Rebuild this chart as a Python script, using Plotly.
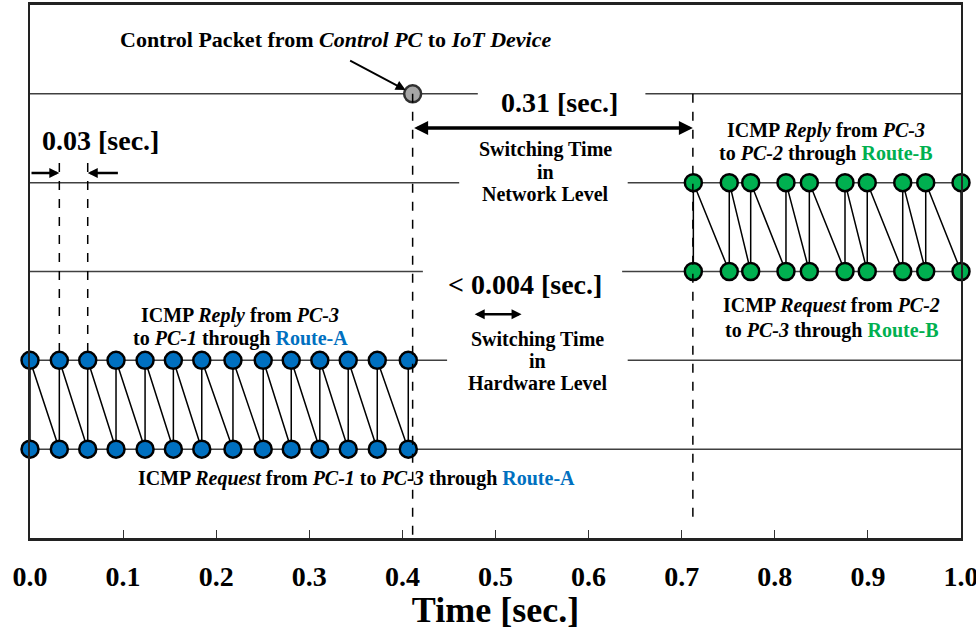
import plotly.graph_objects as go

# ---------------- data ----------------
# time stamps (s) of ICMP request/reply pairs
route_a_times = [0.0, 0.0315, 0.062, 0.0924, 0.1236, 0.154, 0.1845, 0.218, 0.2505,
                 0.2806, 0.3113, 0.3418, 0.373, 0.4063]
route_b_times = [0.7125, 0.7511, 0.7741, 0.812, 0.8371, 0.8754, 0.8993, 0.9374, 0.9621, 1.0]
control_time = [0.411]
switch_end_time = 0.712

# levels (rows) of the timing diagram
LEVEL_A_REQ = 1
LEVEL_A_REP = 2
LEVEL_B_REQ = 3
LEVEL_B_REP = 4
LEVEL_CTRL = 5

x_ticks = [0.0, 0.1, 0.2, 0.3, 0.4, 0.5, 0.6, 0.7, 0.8, 0.9, 1.0]
x_tick_labels = ["0.0", "0.1", "0.2", "0.3", "0.4", "0.5", "0.6", "0.7", "0.8", "0.9", "1.0"]

BLUE = "#0070C0"
GREEN = "#00B050"
FONT = "Liberation Serif"


def zigzag(times, req, rep):
    xs, ys = [], []
    for t in times:
        xs += [t, t]
        ys += [req, rep]
    return xs, ys


fig = go.Figure()

# horizontal level lines (with gaps for text)
level_segments = [
    (LEVEL_CTRL, [(0, 0.481), (0.661, 1)]),
    (LEVEL_B_REP, [(0, 0.461), (0.642, 1)]),
    (LEVEL_B_REQ, [(0, 0.422), (0.636, 1)]),
    (LEVEL_A_REP, [(0, 0.448), (0.642, 1)]),
    (LEVEL_A_REQ, [(0, 1)]),
]
for lvl, segs in level_segments:
    for a, b in segs:
        fig.add_shape(type="line", x0=a, x1=b, y0=lvl, y1=lvl, xref="x", yref="y",
                      line=dict(color="#404040", width=1.5), layer="below")

# dashed guide lines
dash_style = dict(color="black", width=1.5, dash="dash")
fig.add_shape(type="line", x0=control_time[0], x1=control_time[0], y0=LEVEL_CTRL, y1=0,
              line=dash_style)
fig.add_shape(type="line", x0=switch_end_time, x1=switch_end_time, y0=LEVEL_CTRL, y1=0.18,
              line=dash_style)
for t in route_a_times[1:3]:
    fig.add_shape(type="line", x0=t, x1=t, y0=4.22, y1=LEVEL_A_REP, line=dash_style)

# zigzag traces
xa, ya = zigzag(route_a_times, LEVEL_A_REQ, LEVEL_A_REP)
fig.add_trace(go.Scatter(x=xa, y=ya, mode="lines+markers", cliponaxis=False,
                         line=dict(color="black", width=1.5),
                         marker=dict(size=17, color=BLUE, line=dict(color="black", width=2.5)),
                         showlegend=False, hoverinfo="skip"))
xb, yb = zigzag(route_b_times, LEVEL_B_REQ, LEVEL_B_REP)
fig.add_trace(go.Scatter(x=xb, y=yb, mode="lines+markers", cliponaxis=False,
                         line=dict(color="black", width=1.5),
                         marker=dict(size=17, color=GREEN, line=dict(color="black", width=2.5)),
                         showlegend=False, hoverinfo="skip"))
fig.add_trace(go.Scatter(x=control_time, y=[LEVEL_CTRL], mode="markers", cliponaxis=False,
                         marker=dict(size=17, color="#A6A6A6", line=dict(color="#303030", width=2.5)),
                         showlegend=False, hoverinfo="skip"))

ann = []


def text(x, y, s, size=20):
    ann.append(dict(x=x, y=y, xref="x", yref="y", text=s, showarrow=False,
                    font=dict(family=FONT, size=size, color="black", weight="bold"),
                    align="center"))


def arrow(x, y, ax, ay, both=False, width=2, head=2, size=1.0):
    ann.append(dict(x=x, y=y, ax=ax, ay=ay, xref="x", yref="y", axref="x", ayref="y",
                    text="", showarrow=True, arrowhead=head, arrowsize=size, arrowwidth=width,
                    arrowcolor="black", arrowside="end+start" if both else "end",
                    startarrowhead=head, startarrowsize=size))


text(0.328, 5.61, "Control Packet from <i>Control PC</i> to <i>IoT Device</i>", 22)
ann.append(dict(x=control_time[0], y=LEVEL_CTRL, xref="x", yref="y", ax=-64, ay=-34,
                text="", showarrow=True, arrowhead=2, arrowsize=1.1, arrowwidth=1.8,
                arrowcolor="black", standoff=8))

text(0.076, 4.48, "0.03 [sec.]", 28)
arrow(0.0315, 4.11, 0.0, 4.11, width=2.5, size=0.8)
arrow(0.062, 4.11, 0.096, 4.11, width=2.5, size=0.8)

text(0.569, 4.90, "0.31 [sec.]", 28)
arrow(switch_end_time, 4.615, control_time[0], 4.615, both=True, width=3.5, head=2, size=0.8)
text(0.554, 4.37, "Switching Time")
text(0.554, 4.12, "in")
text(0.554, 3.87, "Network Level")

text(0.532, 2.85, "&lt; 0.004 [sec.]", 28)
arrow(0.528, 2.52, 0.476, 2.52, both=True, width=2.5, head=2, size=0.8)
text(0.545, 2.24, "Switching Time")
text(0.545, 1.99, "in")
text(0.545, 1.745, "Hardware Level")

text(0.855, 4.59, "ICMP <i>Reply</i> from <i>PC-3</i>")
text(0.855, 4.33, f"to <i>PC-2</i> through <span style='color:{GREEN}'>Route-B</span>")
text(0.861, 2.62, "ICMP <i>Request</i> from <i>PC-2</i>")
text(0.861, 2.34, f"to <i>PC-3</i> through <span style='color:{GREEN}'>Route-B</span>")
text(0.226, 2.51, "ICMP <i>Reply</i> from <i>PC-3</i>")
text(0.226, 2.25, f"to <i>PC-1</i> through <span style='color:{BLUE}'>Route-A</span>")
text(0.351, 0.675, "ICMP <i>Request</i> from <i>PC-1</i> to <i>PC-3</i> through "
     f"<span style='color:{BLUE}'>Route-A</span>")

fig.update_layout(
    width=976, height=630,
    margin=dict(l=30, r=15, t=5, b=92, autoexpand=False),
    paper_bgcolor="white", plot_bgcolor="white",
    annotations=ann,
    xaxis=dict(range=[0, 1], tickvals=x_ticks, ticktext=x_tick_labels,
               ticks="inside", ticklen=8, tickwidth=1, tickcolor="#333",
               showgrid=False, zeroline=False,
               showline=True, linecolor="#222", linewidth=2.5, mirror=True,
               tickfont=dict(family=FONT, size=28, color="black", weight="bold"),
               ticklabelstandoff=12, ticklabeloverflow="allow",
               title=dict(text="Time [sec.]", standoff=10,
                          font=dict(family=FONT, size=36, color="black", weight="bold"))),
    yaxis=dict(range=[0, 6], showticklabels=False, ticks="", showgrid=False, zeroline=False,
               showline=True, linecolor="#222", linewidth=2, mirror=True),
    showlegend=False,
)

# remove the browser's default 8px page margin so the figure fills the window
fig.write_html("out.html",
               config={"displayModeBar": False},
               post_script="document.body.style.margin='0px';"
                           "document.documentElement.style.overflow='hidden';")
